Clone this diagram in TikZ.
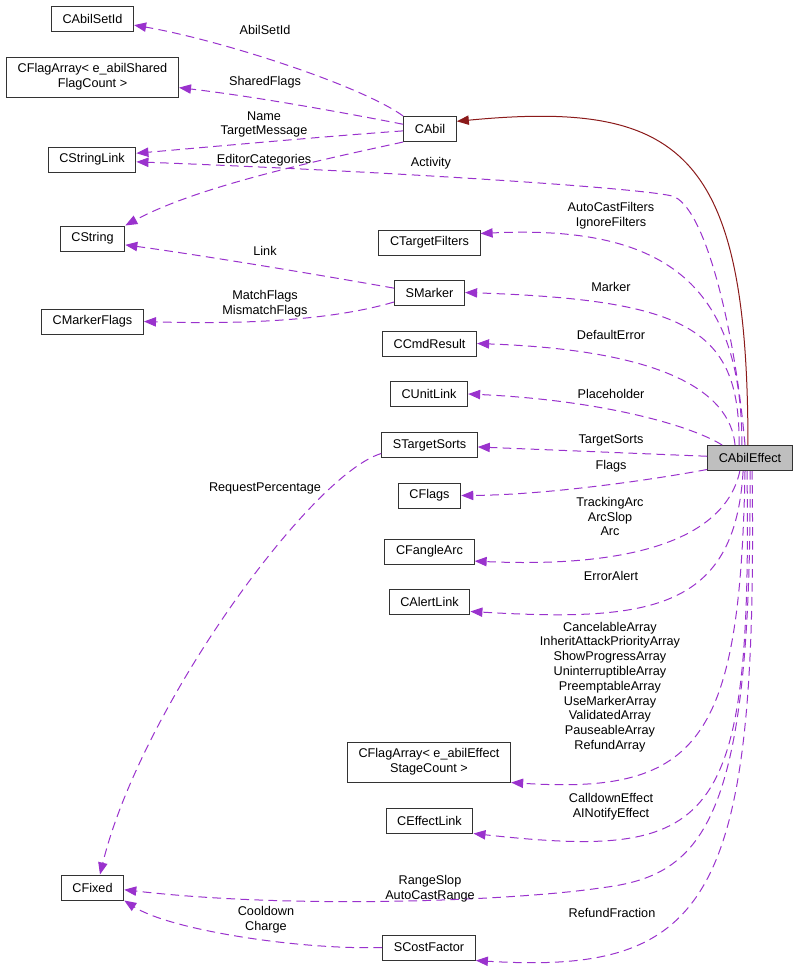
\documentclass[tikz,border=0pt]{standalone}
\usepackage{fontspec}
\setmainfont{Liberation Sans}
\usetikzlibrary{arrows.meta}
\definecolor{memb}{HTML}{9A32CD}
\definecolor{inh}{HTML}{8B1A1A}

\begin{document}
\begin{tikzpicture}[x=0.75pt, y=-0.75pt, font=\fontsize{9.5}{11.1}\selectfont,
  main/.style = {draw=black!80, line width=0.75pt, fill=white, inner xsep=8.4pt, inner ysep=0pt, minimum height=18.75pt},
  two/.style = {main, align=center, minimum height=30pt},
  lbl/.style = {align=center, inner sep=0pt},
  use/.style = {draw=memb, line width=0.75pt, dash pattern=on 6.5pt off 4pt, -{Triangle[length=9pt,width=7pt]}},
  base/.style = {draw=inh, line width=0.75pt, -{Triangle[length=9pt,width=7pt]}}]
\useasboundingbox (0,0) rectangle (799,971);

% left column
\node[main] (cabilsetid) at (92.5,18.5) {CAbilSetId};
\node[two] (flagshared) at (92.5,77) {CFlagArray< e\_abilShared\\FlagCount >};
\node[main] (cstringlink) at (92,159.5) {CStringLink};
\node[main] (cstring) at (92.5,238.5) {CString};
\node[main] (cmarkerflags) at (92.5,321.5) {CMarkerFlags};
\node[main] (cfixed) at (92.5,887.5) {CFixed};

% middle column
\node[main] (cabil) at (430,129) {CAbil};
\node[main] (ctargetfilters) at (429.5,242.5) {CTargetFilters};
\node[main] (smarker) at (429.5,292.5) {SMarker};
\node[main] (ccmdresult) at (429.5,343.5) {CCmdResult};
\node[main] (cunitlink) at (429,394) {CUnitLink};
\node[main] (stargetsorts) at (429.5,445) {STargetSorts};
\node[main] (cflags) at (429.5,495.5) {CFlags};
\node[main] (cfanglearc) at (429.5,551.5) {CFangleArc};
\node[main] (calertlink) at (429.5,602) {CAlertLink};
\node[two] (flageffect) at (429,762) {CFlagArray< e\_abilEffect\\StageCount >};
\node[main] (ceffectlink) at (429.5,820.5) {CEffectLink};
\node[main] (scostfactor) at (429,947.5) {SCostFactor};

\node[main, fill=black!25] (cabileffect) at (750,458) {CAbilEffect};

% CAbil members
\draw[use] (cabil.north west) .. controls (360,85) and (220,40) .. (cabilsetid.-9);
\draw[use] (cabil.170) .. controls (330,110) and (250,96) .. (flagshared.-7);
\draw[use] (cabil.184) .. controls (330,136) and (220,146) .. (cstringlink.8);
\draw[use] (cabil.south west) .. controls (330,158) and (200,185) .. (cstring.north east);

% CAbilEffect
\draw[base] (cabileffect.99) .. controls (748,150) and (680,100) .. (cabil.16);
\draw[use] (cabileffect.111) .. controls (735,330) and (705,205) .. (672,196) .. controls (640,188) and (400,172) .. (cstringlink.-3);
\draw[use] (cabileffect.122) .. controls (742,280) and (660,225) .. (ctargetfilters.10);
\draw[use] (cabileffect.130) .. controls (740,330) and (690,300) .. (smarker.east);
\draw[use] (cabileffect.139) .. controls (730,390) and (660,350) .. (ccmdresult.east);
\draw[use] (cabileffect.155) .. controls (690,425) and (600,400) .. (cunitlink.east);
\draw[use] (cabileffect) -- (stargetsorts);
\draw[use] (cabileffect.195) .. controls (640,482) and (540,495) .. (cflags.east);
\draw[use] (cabileffect.232) .. controls (725,540) and (630,568) .. (cfanglearc.-12);
\draw[use] (cabileffect.242) .. controls (735,610) and (650,622) .. (calertlink.-13);
\draw[use] (cabileffect.249) .. controls (740,740) and (700,795) .. (flageffect.south east);
\draw[use] (cabileffect.257) .. controls (752,830) and (715,860) .. (ceffectlink.south east);
\draw[use] (cabileffect.270) .. controls (752,830) and (700,876) .. (600,888) .. controls (520,900) and (300,910) .. (cfixed.-4);
\draw[use] (cabileffect.279) .. controls (758,900) and (710,975) .. (scostfactor.south east);

% structs
\draw[use] (smarker.173) .. controls (320,275) and (200,255) .. (cstring.-11);
\draw[use] (smarker.195) .. controls (340,318) and (260,325) .. (cmarkerflags.east);
\draw[use] (stargetsorts.190) .. controls (310,475) and (140,710) .. (cfixed.60);
\draw[use] (scostfactor.west) .. controls (300,950) and (170,930) .. (cfixed.south east);

% labels
\node[lbl] (l-abilsetid) at (265,30) {AbilSetId};
\node[lbl] (l-sharedflags) at (265,82) {SharedFlags};
\node[lbl] (l-name) at (264,124.5) {Name\\TargetMessage};
\node[lbl] (l-editorcat) at (264,160.5) {EditorCategories};
\node[lbl] (l-activity) at (431,163) {Activity};
\node[lbl] (l-filters) at (611,215.5) {AutoCastFilters\\IgnoreFilters};
\node[lbl] (l-marker) at (611,287) {Marker};
\node[lbl] (l-defaulterror) at (611,335) {DefaultError};
\node[lbl] (l-placeholder) at (611,394) {Placeholder};
\node[lbl] (l-targetsorts) at (611,440) {TargetSorts};
\node[lbl] (l-flags) at (611,466) {Flags};
\node[lbl] (l-arc) at (610,516.5) {TrackingArc\\ArcSlop\\Arc};
\node[lbl] (l-erroralert) at (611,576) {ErrorAlert};
\node[lbl] (l-arrays) at (610,687) {CancelableArray\\InheritAttackPriorityArray\\ShowProgressArray\\UninterruptibleArray\\PreemptableArray\\UseMarkerArray\\ValidatedArray\\PauseableArray\\RefundArray};
\node[lbl] (l-effects) at (611,806.5) {CalldownEffect\\AINotifyEffect};
\node[lbl] (l-range) at (430,888.5) {RangeSlop\\AutoCastRange};
\node[lbl] (l-refund) at (612,913) {RefundFraction};
\node[lbl] (l-cooldown) at (266,920) {Cooldown\\Charge};
\node[lbl] (l-link) at (265,251) {Link};
\node[lbl] (l-matchflags) at (265,303.5) {MatchFlags\\MismatchFlags};
\node[lbl] (l-request) at (265,488) {RequestPercentage};
\end{tikzpicture}
\end{document}
